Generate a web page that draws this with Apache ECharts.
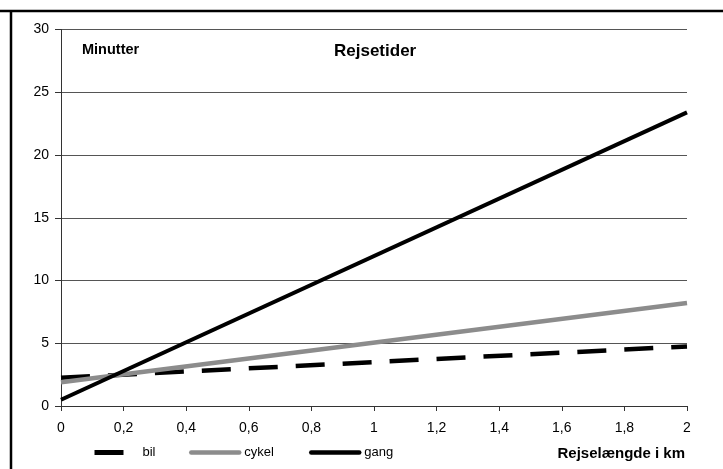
<!DOCTYPE html>
<html>
<head>
<meta charset="utf-8">
<script src="https://cdn.jsdelivr.net/npm/echarts@6/dist/echarts.min.js"></script>
<style>
html,body{margin:0;padding:0;background:#fff;}
#chart{width:723px;height:469px;}
</style>
</head>
<body>
<div id="chart"></div>
<script>
// Data
const xValues = [0, 2];               // Rejselængde i km
const bil = [2.25, 4.75];             // minutter
const cykel = [1.9, 8.2];
const gang = [0.5, 23.4];
const seriesNames = ['bil', 'cykel', 'gang'];
const xTicks = [0, 0.2, 0.4, 0.6, 0.8, 1, 1.2, 1.4, 1.6, 1.8, 2];
const yTicks = [0, 5, 10, 15, 20, 25, 30];

const FONT = '"Liberation Sans", Arial, sans-serif';
const pairs = (ys) => xValues.map((x, i) => [x, ys[i]]);
const BIL_DASH = [29, 18];

const legendBase = {
  top: 446, padding: 0, itemHeight: 14,
  itemStyle: { opacity: 0 },
  textStyle: { fontSize: 13, color: '#000', fontFamily: FONT }
};

const chart = echarts.init(document.getElementById('chart'));
chart.setOption({
  animation: false,
  backgroundColor: '#fff',
  textStyle: { fontFamily: FONT },
  title: [
    { text: 'Rejsetider', left: 329, top: 38,
      textStyle: { fontSize: 17, fontWeight: 'bold', color: '#000', fontFamily: FONT } },
    { text: 'Minutter', left: 77, top: 37,
      textStyle: { fontSize: 14.5, fontWeight: 'bold', color: '#000', fontFamily: FONT } },
    { text: 'Rejselængde i km', right: 33, top: 441,
      textStyle: { fontSize: 15, fontWeight: 'bold', color: '#000', fontFamily: FONT } }
  ],
  grid: { left: 61, right: 36, top: 29.5, bottom: 63, containLabel: false },
  xAxis: {
    type: 'value', min: xTicks[0], max: xTicks[xTicks.length - 1], interval: 0.2,
    axisLine: { show: true, lineStyle: { color: '#333', width: 1 } },
    axisTick: { show: true, inside: false, length: 5, lineStyle: { color: '#333' } },
    splitLine: { show: false },
    axisLabel: { margin: 15, fontSize: 14, color: '#000', fontFamily: FONT,
      formatter: (v) => String(Math.round(v * 10) / 10).replace('.', ',') }
  },
  yAxis: {
    type: 'value', min: yTicks[0], max: yTicks[yTicks.length - 1], interval: 5,
    axisLine: { show: true, lineStyle: { color: '#333', width: 1 } },
    axisTick: { show: true, inside: false, length: 6, lineStyle: { color: '#333' } },
    splitLine: { show: true, lineStyle: { color: '#555', width: 1 } },
    axisLabel: { margin: 12, fontSize: 14, color: '#000', fontFamily: FONT }
  },
  legend: [
    Object.assign({}, legendBase, { data: [seriesNames[0]], left: 92, itemWidth: 43,
      lineStyle: { width: 5, type: BIL_DASH, color: '#000' } }),
    Object.assign({}, legendBase, { data: [seriesNames[1]], left: 189, itemWidth: 48,
      lineStyle: { width: 4.5, color: '#8c8c8c', cap: 'round' } }),
    Object.assign({}, legendBase, { data: [seriesNames[2]], left: 309, itemWidth: 48,
      lineStyle: { width: 4.5, color: '#000', cap: 'round' } })
  ],
  graphic: [
    { type: 'line', shape: { x1: 0, y1: 11, x2: 723, y2: 11 }, style: { stroke: '#000', lineWidth: 2.5 }, silent: true },
    { type: 'line', shape: { x1: 11, y1: 10, x2: 11, y2: 469 }, style: { stroke: '#000', lineWidth: 2.5 }, silent: true }
  ],
  series: [
    { name: seriesNames[0], type: 'line', data: pairs(bil), symbol: 'none', z: 3,
      itemStyle: { color: '#000' },
      lineStyle: { color: '#000', width: 4.5, type: BIL_DASH } },
    { name: seriesNames[1], type: 'line', data: pairs(cykel), symbol: 'none', z: 4,
      itemStyle: { color: '#8c8c8c' },
      lineStyle: { color: '#8c8c8c', width: 4.5 } },
    { name: seriesNames[2], type: 'line', data: pairs(gang), symbol: 'none', z: 5,
      itemStyle: { color: '#000' },
      lineStyle: { color: '#000', width: 4 } }
  ]
});
</script>
</body>
</html>
